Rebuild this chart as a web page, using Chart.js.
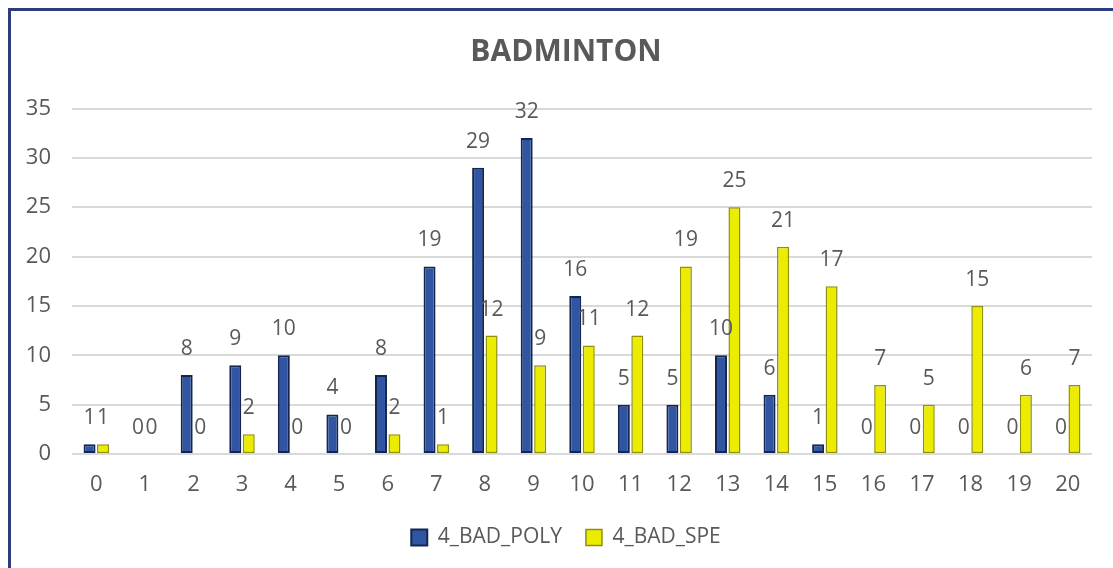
<!DOCTYPE html>
<html><head><meta charset="utf-8">
<script src="https://cdn.jsdelivr.net/npm/chart.js@4.4.1/dist/chart.umd.min.js"></script>
<style>
html,body{margin:0;padding:0;background:#fff;overflow:hidden}
#wrap{position:relative;width:1113px;height:568px}
#frame{position:absolute;left:8px;top:8px;width:1300px;height:800px;border-top:3px solid #2d3c7c;border-left:3px solid #2d3c7c;pointer-events:none}
</style></head><body>
<div id="wrap"><canvas id="c"></canvas><div id="frame"></div></div>
<script>
const categories = ['0','1','2','3','4','5','6','7','8','9','10','11','12','13','14','15','16','17','18','19','20'];
const polyValues = [1,0,8,9,10,4,8,19,29,32,16,5,5,10,6,1,0,0,0,0,0];
const speValues  = [1,0,0,2,0,0,2,1,12,9,11,12,19,25,21,17,7,5,15,6,7];
const seriesNames = ['4_BAD_POLY','4_BAD_SPE'];
const yMin = 0, yMax = 35, yStep = 5;
const titleText = 'BADMINTON';

const FONT = "'Open Sans', sans-serif";
const GREY = '#595959';

const valueLabels = {
  id: 'valueLabels',
  afterDatasetsDraw(chart) {
    const ctx = chart.ctx;
    ctx.save();
    ctx.font = "21px " + FONT;
    ctx.fillStyle = GREY;
    ctx.textAlign = 'center';
    ctx.textBaseline = 'middle';
    chart.data.datasets.forEach((ds, di) => {
      const meta = chart.getDatasetMeta(di);
      meta.data.forEach((el, i) => {
        ctx.fillText(String(ds.data[i]), el.x, el.y - 26);
      });
    });
    ctx.restore();
  }
};

// widen the y scale's label clip region to the left edge (labels sit in the layout padding)
const widenYLabels = {
  id: 'widenYLabels',
  afterLayout(chart) { chart.scales.y.left = 0; }
};

new Chart(document.getElementById('c'), {
  type: 'bar',
  data: {
    labels: categories,
    datasets: [
      { label: seriesNames[0], data: polyValues, backgroundColor: '#2f55a3', borderColor: '#14264f', borderWidth: 2, borderSkipped: false },
      { label: seriesNames[1], data: speValues, backgroundColor: '#ecec00', borderColor: '#8f8f10', borderWidth: 1.5, borderSkipped: false }
    ]
  },
  options: {
    responsive: true,
    maintainAspectRatio: false,
    animation: false,
    devicePixelRatio: 1,
    categoryPercentage: 0.555,
    barPercentage: 0.89,
    layout: { padding: { left: 40, right: 21, top: 0, bottom: 10 } },
    plugins: {
      title: { display: true, text: titleText, color: GREY, font: { family: FONT, size: 30, weight: 'bold' }, padding: { top: 34, bottom: 38.5 } },
      legend: {
        position: 'bottom',
        labels: { color: GREY, font: { family: FONT, size: 21 }, boxWidth: 16, boxHeight: 16, padding: 24 }
      },
      tooltip: { enabled: false }
    },
    scales: {
      x: {
        grid: { display: false, drawTicks: false },
        border: { display: false },
        ticks: { color: GREY, font: { family: FONT, size: 22 }, padding: 18 },
        afterFit(s) { s.height = 49; }
      },
      y: {
        min: yMin, max: yMax,
        grid: { color: '#d9d9d9', lineWidth: 2, drawTicks: false },
        border: { display: false },
        ticks: { stepSize: yStep, color: GREY, font: { family: FONT, size: 22 }, padding: 21 },
        afterFit(s) { s.width = 32; }
      }
    }
  },
  plugins: [valueLabels, widenYLabels]
});
</script>
</body></html>
